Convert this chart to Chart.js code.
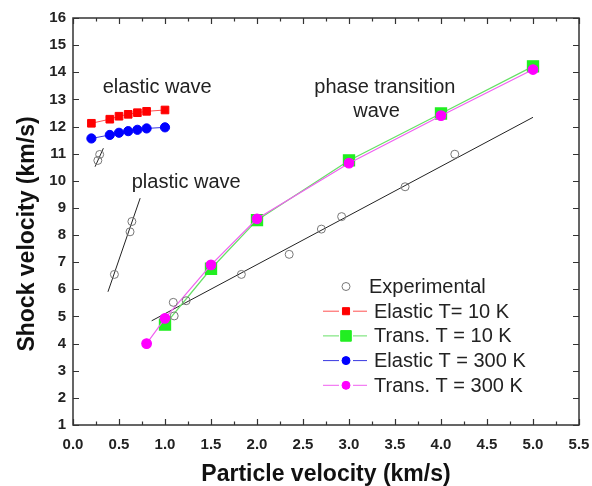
<!DOCTYPE html>
<html>
<head>
<meta charset="utf-8">
<script src="https://cdn.jsdelivr.net/npm/chart.js@4.4.1/dist/chart.umd.min.js"></script>
<style>
  html, body { margin: 0; padding: 0; background: #fff; }
  #wrap { width: 592px; height: 486px; }
</style>
</head>
<body>
<div id="wrap"><canvas id="ShockChart"></canvas></div>
<script>
// experimental points (open circles)
const expX = [0.27, 0.29, 0.45, 0.62, 0.64, 1.09, 1.10, 1.23, 1.83, 2.35, 2.70, 2.92, 3.61, 4.15];
const expY = [10.75, 10.97, 6.55, 8.12, 8.5, 5.52, 5.02, 5.58, 6.55, 7.29, 8.22, 8.68, 9.78, 10.98];

// linear fits through experimental data (end points)
const elasticFitX = [0.24, 0.33];
const elasticFitY = [10.52, 11.2];
const plasticFitX = [0.38, 0.73];
const plasticFitY = [5.91, 9.36];
const transFitX = [0.855, 5.0];
const transFitY = [4.84, 12.34];

// simulations
const elasticUp = [0.2, 0.4, 0.5, 0.6, 0.7, 0.8, 1.0];
const elastic10K = [12.12, 12.27, 12.38, 12.45, 12.51, 12.56, 12.61];
const elastic300K = [11.56, 11.69, 11.77, 11.83, 11.88, 11.93, 11.97];

const trans10KUp = [1.0, 1.5, 2.0, 3.0, 4.0, 5.0];
const trans10K = [4.7, 6.76, 8.55, 10.75, 12.48, 14.22];
const trans300KUp = [0.8, 1.0, 1.5, 2.0, 3.0, 4.0, 5.0];
const trans300K = [4.0, 4.93, 6.9, 8.6, 10.65, 12.4, 14.1];

const xTickValues = [0, 0.5, 1.0, 1.5, 2.0, 2.5, 3.0, 3.5, 4.0, 4.5, 5.0, 5.5];
const yTickValues = [1, 2, 3, 4, 5, 6, 7, 8, 9, 10, 11, 12, 13, 14, 15, 16];

const FONT = '"Liberation Sans", Arial, sans-serif';

function pts(xs, ys) {
    return xs.map((x, i) => ({ x: x, y: ys[i] }));
}

function drawMarker(ctx, style, r, fill, stroke, x, y) {
    ctx.save();
    ctx.beginPath();
    if (style === 'rect') {
        const s = r * Math.SQRT1_2;
        ctx.rect(x - s, y - s, 2 * s, 2 * s);
    } else {
        ctx.arc(x, y, r, 0, Math.PI * 2);
    }
    if (fill && fill !== 'transparent') {
        ctx.fillStyle = fill;
        ctx.fill();
    }
    ctx.strokeStyle = stroke;
    ctx.lineWidth = 1;
    ctx.stroke();
    ctx.restore();
}

// frame, inward ticks, axis titles, notes and legend
const decor = {
    id: 'decor',
    afterDraw(chart) {
        const ctx = chart.ctx;
        const a = chart.chartArea;
        const xs = chart.scales.x;
        const ys = chart.scales.y;
        ctx.save();
        ctx.strokeStyle = '#333';
        ctx.lineWidth = 1.5;
        ctx.strokeRect(a.left, a.top, a.right - a.left, a.bottom - a.top);

        ctx.lineWidth = 1.2;
        ctx.beginPath();
        for (let v = 0; v <= 5.5001; v += 0.25) {
            const px = Math.round(xs.getPixelForValue(v)) + 0.5;
            const major = Math.abs(v * 2 - Math.round(v * 2)) < 1e-6;
            const len = major ? 6 : 3.5;
            ctx.moveTo(px, a.bottom); ctx.lineTo(px, a.bottom - len);
            ctx.moveTo(px, a.top); ctx.lineTo(px, a.top + len);
        }
        yTickValues.forEach(v => {
            const py = Math.round(ys.getPixelForValue(v)) + 0.5;
            ctx.moveTo(a.left, py); ctx.lineTo(a.left + 6, py);
            ctx.moveTo(a.right, py); ctx.lineTo(a.right - 6, py);
        });
        ctx.stroke();

        // axis titles
        ctx.fillStyle = '#111';
        ctx.font = 'bold 23px ' + FONT;
        ctx.textAlign = 'center';
        ctx.textBaseline = 'alphabetic';
        ctx.fillText('Particle velocity (km/s)', (a.left + a.right) / 2, 481);
        ctx.save();
        ctx.translate(34, 234);
        ctx.rotate(-Math.PI / 2);
        ctx.fillText('Shock velocity (km/s)', 0, 0);
        ctx.restore();

        // notes
        ctx.font = '20px ' + FONT;
        ctx.fillStyle = '#222';
        ctx.fillText('elastic wave', xs.getPixelForValue(0.915), ys.getPixelForValue(13.24));
        ctx.fillText('plastic wave', xs.getPixelForValue(1.23), ys.getPixelForValue(9.75));
        ctx.fillText('phase transition', xs.getPixelForValue(3.39), ys.getPixelForValue(13.24));
        ctx.fillText('wave', xs.getPixelForValue(3.3), ys.getPixelForValue(12.35));

        // legend
        ctx.textAlign = 'left';
        ctx.textBaseline = 'middle';
        let row = 0;
        chart.data.datasets.forEach(ds => {
            if (!ds.label) return;
            const y = 286.5 + row * 24.7;
            const mx = 346;
            if (ds.showLine === false) {
                drawMarker(ctx, ds.pointStyle, ds.pointRadius, ds.pointBackgroundColor, ds.pointBorderColor, mx, y);
                ctx.fillStyle = '#222';
                ctx.fillText(ds.label, 369, y + 1);
            } else {
                ctx.strokeStyle = ds.borderColor;
                ctx.lineWidth = 1;
                ctx.beginPath();
                ctx.moveTo(323, y); ctx.lineTo(339, y);
                ctx.moveTo(353, y); ctx.lineTo(367, y);
                ctx.stroke();
                drawMarker(ctx, ds.pointStyle, ds.legendRadius, ds.pointBackgroundColor, ds.pointBorderColor, mx, y);
                ctx.fillStyle = '#222';
                ctx.fillText(ds.label, 374, y + 1);
            }
            row++;
        });
        ctx.restore();
    }
};

const shock = document.getElementById('ShockChart').getContext('2d');
const shockChart = new Chart(shock, {
    type: 'scatter',
    data: {
        datasets: [{
            label: 'Experimental',
            data: pts(expX, expY),
            showLine: false,
            pointStyle: 'circle',
            pointRadius: 4,
            pointBackgroundColor: 'transparent',
            pointBorderColor: '#777',
            pointBorderWidth: 1,
            order: 0
        },
        {
            label: 'Elastic T= 10 K',
            data: pts(elasticUp, elastic10K),
            showLine: true,
            borderColor: '#ff5050',
            borderWidth: 1,
            pointStyle: 'rect',
            pointRadius: 5.4,
            legendRadius: 5,
            pointBackgroundColor: '#ff0000',
            pointBorderColor: '#ff0000',
            order: 3
        },
        {
            label: 'Trans. T = 10 K',
            data: pts(trans10KUp, trans10K),
            showLine: true,
            borderColor: '#66e066',
            borderWidth: 1.3,
            pointStyle: 'rect',
            pointRadius: 7.8,
            legendRadius: 7.5,
            pointBackgroundColor: '#22ee22',
            pointBorderColor: '#22ee22',
            order: 2
        },
        {
            label: 'Elastic T = 300 K',
            data: pts(elasticUp, elastic300K),
            showLine: true,
            borderColor: '#3838e0',
            borderWidth: 1,
            pointStyle: 'circle',
            pointRadius: 4.6,
            legendRadius: 4,
            pointBackgroundColor: '#0000ff',
            pointBorderColor: '#0000ff',
            order: 3
        },
        {
            label: 'Trans. T = 300 K',
            data: pts(trans300KUp, trans300K),
            showLine: true,
            borderColor: '#f060f0',
            borderWidth: 1.2,
            pointStyle: 'circle',
            pointRadius: 4.8,
            legendRadius: 4,
            pointBackgroundColor: '#ff00ff',
            pointBorderColor: '#ff00ff',
            order: 1
        },
        {
            data: pts(elasticFitX, elasticFitY),
            showLine: true, borderColor: '#222', borderWidth: 1, pointRadius: 0, order: 5
        },
        {
            data: pts(plasticFitX, plasticFitY),
            showLine: true, borderColor: '#222', borderWidth: 1, pointRadius: 0, order: 5
        },
        {
            data: pts(transFitX, transFitY),
            showLine: true, borderColor: '#222', borderWidth: 1, pointRadius: 0, order: 5
        }
    ]
    },
    options: {
        responsive: true,
        maintainAspectRatio: false,
        animation: false,
        layout: {
            padding: { top: 18, right: 13, left: 0, bottom: 0 }
        },
        plugins: {
            legend: { display: false },
            tooltip: { enabled: false }
        },
        scales: {
            x: {
                type: 'linear',
                min: 0,
                max: 5.5,
                afterFit: s => { s.height = 61; s.paddingLeft = 0; s.paddingRight = 0; },
                afterBuildTicks: s => { s.ticks = xTickValues.map(v => ({ value: v })); },
                grid: { drawOnChartArea: false, drawTicks: false },
                border: { display: false },
                ticks: {
                    padding: 11,
                    color: '#222',
                    font: { family: FONT, size: 15, weight: 'bold' },
                    callback: v => v.toFixed(1)
                }
            },
            y: {
                type: 'linear',
                min: 1,
                max: 16,
                afterFit: s => { s.width = 73; s.paddingTop = 0; s.paddingBottom = 0; },
                afterBuildTicks: s => { s.ticks = yTickValues.map(v => ({ value: v })); },
                grid: { drawOnChartArea: false, drawTicks: false },
                border: { display: false },
                ticks: {
                    padding: 7,
                    color: '#222',
                    font: { family: FONT, size: 15, weight: 'bold' },
                    callback: v => String(v)
                }
            }
        }
    },
    plugins: [decor]
});
</script>
</body>
</html>
